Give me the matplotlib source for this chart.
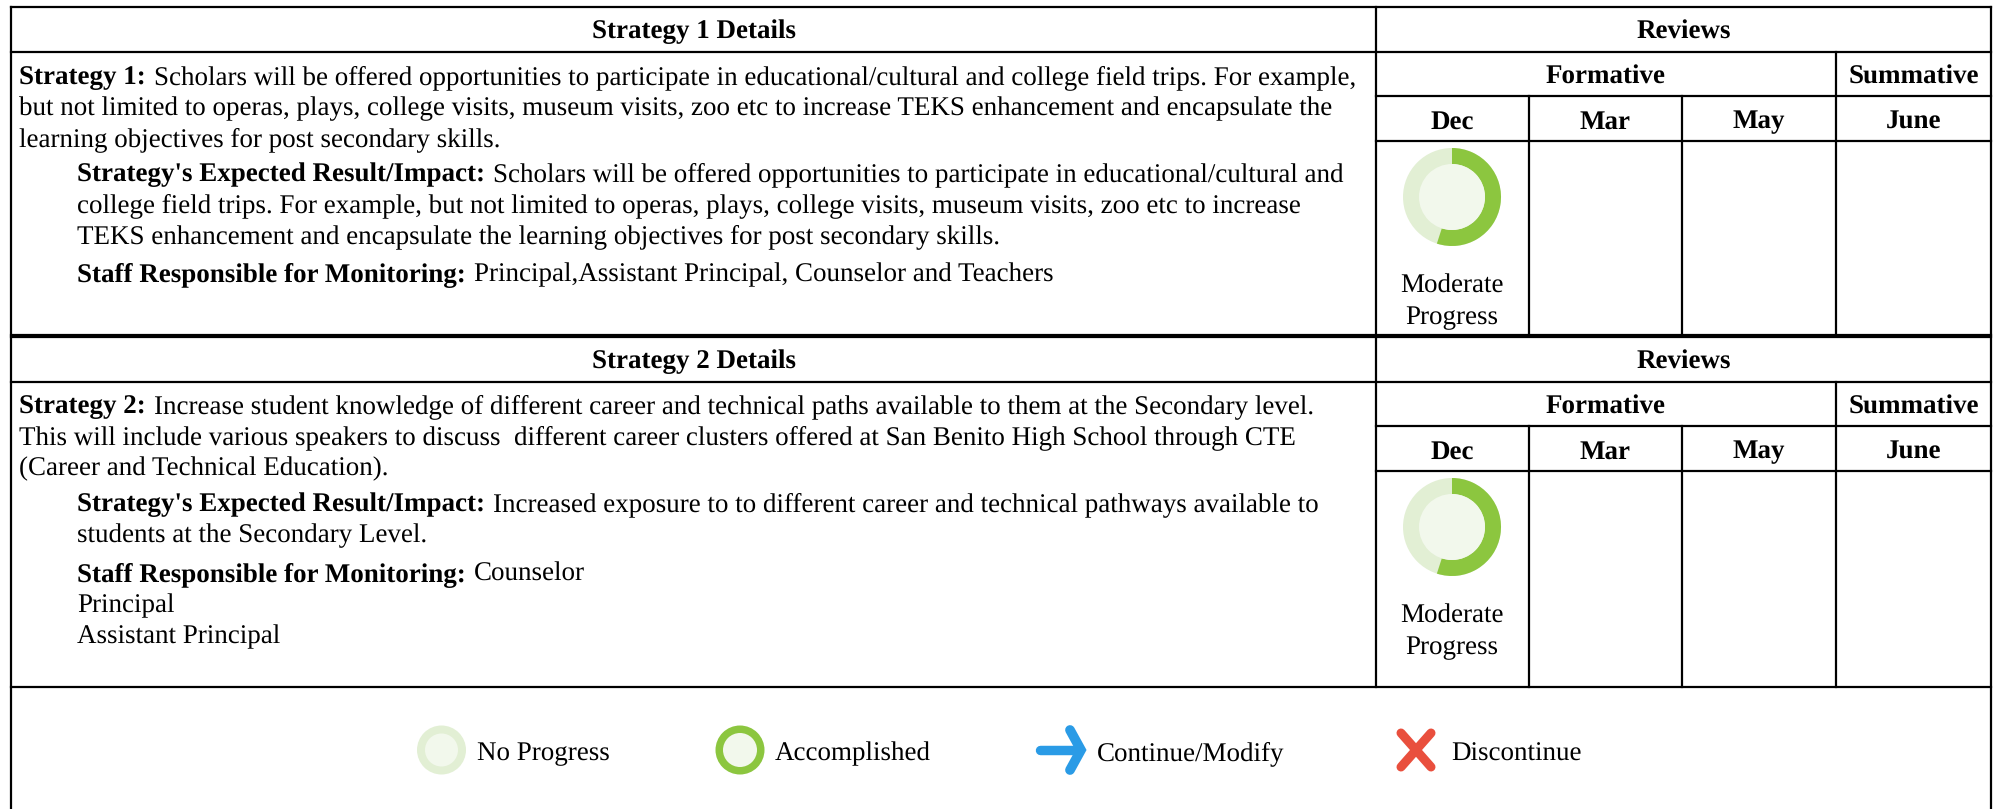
"""Strategy review table with progress donuts and a status legend."""
import matplotlib.pyplot as plt
from matplotlib.patches import Circle, Wedge

W, H = 1993, 809
FS = 19.45

GREEN = "#8cc63f"
PALE = "#e2efd4"
INNER = "#f2f8ec"
BLUE = "#2a9be6"
RED = "#e94f3d"

MONTHS = ["Dec", "Mar", "May", "June"]
PROGRESS = [55, 55]
STATUS = ["Moderate", "Progress"]
LEGEND = ["No Progress", "Accomplished", "Continue/Modify", "Discontinue"]

S1_LINES = [
    ("Strategy 1:", "Scholars will be offered opportunities to participate in educational/cultural and college field trips. For example,"),
    ("", "but not limited to operas, plays, college visits, museum visits, zoo etc to increase TEKS enhancement and encapsulate the"),
    ("", "learning objectives for post secondary skills."),
]
S1_IMPACT = [
    ("Strategy's Expected Result/Impact:", "Scholars will be offered opportunities to participate in educational/cultural and"),
    ("", "college field trips. For example, but not limited to operas, plays, college visits, museum visits, zoo etc to increase"),
    ("", "TEKS enhancement and encapsulate the learning objectives for post secondary skills."),
]
S1_STAFF = [("Staff Responsible for Monitoring:", "Principal,Assistant Principal, Counselor and Teachers")]

S2_LINES = [
    ("Strategy 2:", "Increase student knowledge of different career and technical paths available to them at the Secondary level."),
    ("", "This will include various speakers to discuss  different career clusters offered at San Benito High School through CTE"),
    ("", "(Career and Technical Education)."),
]
S2_IMPACT = [
    ("Strategy's Expected Result/Impact:", "Increased exposure to to different career and technical pathways available to"),
    ("", "students at the Secondary Level."),
]
S2_STAFF = [
    ("Staff Responsible for Monitoring:", "Counselor"),
    ("", "Principal"),
    ("", "Assistant Principal"),
]

plt.rcParams["font.family"] = ["Liberation Serif"]
plt.rcParams["text.hinting"] = "no_hinting"

fig = plt.figure(figsize=(W / 100, H / 100), dpi=100)
ax = fig.add_axes([0, 0, 1, 1])
ax.set_xlim(0, W)
ax.set_ylim(H, 0)
ax.axis("off")

X0, XL, XR = 11, 1376, 1991
COLS = [1376, 1529, 1682, 1836, 1991]


def line(x0, y0, x1, y1, lw=1.6):
    ax.plot([x0, x1], [y0, y1], color="black", lw=lw, solid_capstyle="projecting")


def rich(x, y, bold, regular):
    # bold lead-in, then the regular run placed right after it
    if bold:
        t = ax.text(x, y, bold, fontsize=FS, fontweight="bold", va="baseline")
        bb = t.get_window_extent(fig.canvas.get_renderer())
        x = bb.x1 + 8
    ax.text(x, y, regular, fontsize=FS, va="baseline")


def block(top, title, body, impact, staff, y_body, y_impact, y_staff, bottom):
    r1, r2, r3 = top + 44.5, top + 89, top + 133.5
    line(X0, top, XR, top)
    line(X0, r1, XR, r1)
    line(XL, r2, XR, r2)
    line(XL, r3, XR, r3)
    line(XL, top, XL, bottom)
    line(COLS[3], r1, COLS[3], bottom)
    for c in COLS[1:3]:
        line(c, r2, c, bottom)
    ax.text((X0 + XL) / 2, top + 31.5, title, fontsize=FS, fontweight="bold", ha="center")
    ax.text((XL + XR) / 2, top + 31.5, "Reviews", fontsize=FS, fontweight="bold", ha="center")
    ax.text((XL + COLS[3]) / 2, top + 76.5, "Formative", fontsize=FS, fontweight="bold", ha="center")
    ax.text((COLS[3] + XR) / 2, top + 76.5, "Summative", fontsize=FS, fontweight="bold", ha="center")
    for i, m in enumerate(MONTHS):
        ax.text((COLS[i] + COLS[i + 1]) / 2, top + 121.5, m, fontsize=FS, fontweight="bold", ha="center")
    for i, (b, r) in enumerate(body):
        rich(19, y_body + i * 31, b, r)
    for i, (b, r) in enumerate(impact):
        rich(77, y_impact + i * 31, b, r)
    for i, (b, r) in enumerate(staff):
        rich(77, y_staff + i * 31, b, r)


def donut(cx, cy, pct):
    ax.add_patch(Circle((cx, cy), 49, fc=PALE, ec="none"))
    # y axis is inverted, so angles run clockwise on screen
    ax.add_patch(Wedge((cx, cy), 49, -90, -90 + pct * 3.6, width=16, fc=GREEN, ec="none"))
    ax.add_patch(Circle((cx, cy), 33, fc=INNER, ec="none"))


block(7, "Strategy 1 Details", S1_LINES, S1_IMPACT, S1_STAFF, 84.5, 181, 281, 335)
block(337, "Strategy 2 Details", S2_LINES, S2_IMPACT, S2_STAFF, 413.5, 511, 581, 687)
line(X0, 335, XR, 335)
line(X0, 687, XR, 687)
line(X0, 7, X0, H)
line(XR, 7, XR, H)

for cy, ytxt, pct in zip([197, 527], [293, 623], PROGRESS):
    donut(1452, cy, pct)
    ax.text(1452, ytxt, STATUS[0], fontsize=FS, ha="center")
    ax.text(1452, ytxt + 31, STATUS[1], fontsize=FS, ha="center")

# legend row
cy = 750
ax.add_patch(Circle((441.5, cy), 24.5, fc=PALE, ec="none"))
ax.add_patch(Circle((441.5, cy), 16.5, fc=INNER, ec="none"))
ax.add_patch(Circle((740, cy), 24.5, fc=GREEN, ec="none"))
ax.add_patch(Circle((740, cy), 17, fc=INNER, ec="none"))
ax.plot([1040, 1078], [cy, cy], color=BLUE, lw=6.8, solid_capstyle="round")
ax.plot([1070, 1081, 1070], [cy - 20, cy, cy + 20], color=BLUE, lw=7,
        solid_capstyle="round", solid_joinstyle="miter")
ax.plot([1401, 1431], [cy - 17, cy + 17], color=RED, lw=6.5, solid_capstyle="round")
ax.plot([1431, 1401], [cy - 17, cy + 17], color=RED, lw=6.5, solid_capstyle="round")
for x, s in zip([477, 775, 1097, 1451], LEGEND):
    ax.text(x, cy + 10.5, s, fontsize=FS)

fig.savefig("out.png", dpi=100)
